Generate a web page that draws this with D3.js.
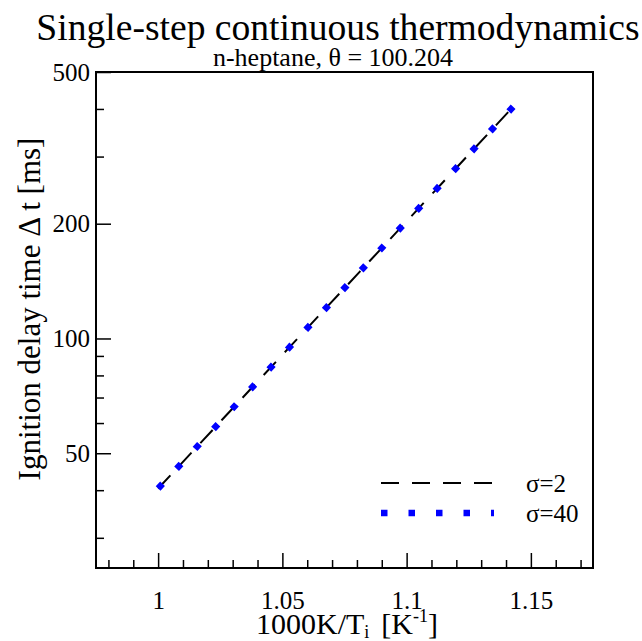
<!DOCTYPE html>
<html>
<head>
<meta charset="utf-8">
<script src="https://cdn.jsdelivr.net/npm/d3@7"></script>
<style>
  body { margin: 0; background: #fff; }
  text { font-family: "Liberation Serif", "Times New Roman", serif; fill: #000; }
</style>
</head>
<body>
<div class="chart"></div>
<script>
// data
var invT = [1.0, 1.02564, 1.05263, 1.08108, 1.11111, 1.14286];
var tauSigma2 = [40.4, 61.1, 94.5, 149.5, 242.8, 405.2];
var tauSigma40 = [40.4, 61.1, 94.5, 149.5, 242.8, 405.2];
var xMajor = [1, 1.05, 1.1, 1.15];
var xMinor = [0.98, 0.99, 1.01, 1.02, 1.03, 1.04, 1.06, 1.07, 1.08, 1.09, 1.11, 1.12, 1.13, 1.14, 1.16, 1.17];
var yMajor = [50, 100, 200, 500];
var yMinor = [30, 40, 60, 70, 80, 90, 300, 400];
var seriesNames = ["σ=2", "σ=40"];

function init() {
    var w = 642, h = 641;
    var left = 96, right = 593, top = 72, bottom = 568;

    var svg = d3.select(".chart").append("svg")
        .attr("width", w)
        .attr("height", h)
        .attr("font-family", "Liberation Serif");

    var xScale = d3.scaleLinear().domain([0.975, 1.175]).range([left, right]);
    var yScale = d3.scaleLog().domain([25, 500]).range([bottom, top]);

    // ticks point inward
    svg.append("g")
        .attr("transform", "translate(0," + bottom + ")")
        .call(d3.axisBottom(xScale).tickValues(xMinor).tickSizeInner(-8).tickSizeOuter(0).tickFormat(""))
        .call(function(g) { g.select(".domain").remove(); });
    var xAx = svg.append("g")
        .attr("transform", "translate(0," + bottom + ")")
        .call(d3.axisBottom(xScale).tickValues(xMajor).tickSizeInner(-15).tickSizeOuter(0).tickPadding(23).tickFormat(d3.format("")));
    xAx.select(".domain").remove();
    xAx.attr("font-family", null).attr("font-size", null);
    xAx.selectAll("text").style("font-size", "25px");

    svg.append("g")
        .attr("transform", "translate(" + left + ",0)")
        .call(d3.axisLeft(yScale).tickValues(yMinor).tickSizeInner(-8).tickSizeOuter(0).tickFormat(""))
        .call(function(g) { g.select(".domain").remove(); });
    var yAx = svg.append("g")
        .attr("transform", "translate(" + left + ",0)")
        .call(d3.axisLeft(yScale).tickValues(yMajor).tickSizeInner(-15).tickSizeOuter(0).tickPadding(6).tickFormat(d3.format("d")));
    yAx.select(".domain").remove();
    yAx.attr("font-family", null).attr("font-size", null);
    yAx.selectAll("text").style("font-size", "25px");

    svg.selectAll(".tick line").attr("stroke", "#000").attr("stroke-width", 1.5);

    // frame
    svg.append("rect")
        .attr("x", left).attr("y", top)
        .attr("width", right - left).attr("height", bottom - top)
        .attr("fill", "none").attr("stroke", "#000").attr("stroke-width", 2);

    var line = d3.line()
        .x(function(d) { return xScale(d[0]); })
        .y(function(d) { return yScale(d[1]); });

    svg.append("path")
        .datum(d3.zip(invT, tauSigma2))
        .attr("d", line)
        .attr("fill", "none")
        .attr("stroke", "#000")
        .attr("stroke-width", 2)
        .attr("stroke-dasharray", "18,13");

    svg.append("path")
        .datum(d3.zip(invT, tauSigma40))
        .attr("d", line)
        .attr("fill", "none")
        .attr("stroke", "#0000ff")
        .attr("stroke-width", 6.5)
        .attr("stroke-dasharray", "6.5,20.6");

    // legend
    svg.append("line")
        .attr("x1", 381).attr("x2", 494).attr("y1", 483).attr("y2", 483)
        .attr("stroke", "#000").attr("stroke-width", 2).attr("stroke-dasharray", "18,13");
    svg.append("line")
        .attr("x1", 381).attr("x2", 494).attr("y1", 513).attr("y2", 513)
        .attr("stroke", "#0000ff").attr("stroke-width", 6.5).attr("stroke-dasharray", "6.5,21");
    svg.append("text").attr("x", 526).attr("y", 492).style("font-size", "25px").text(seriesNames[0]);
    svg.append("text").attr("x", 526).attr("y", 522).style("font-size", "25px").text(seriesNames[1]);

    // titles
    svg.append("text")
        .attr("x", 338).attr("y", 40)
        .attr("text-anchor", "middle")
        .style("font-size", "37.6px")
        .text("Single-step continuous thermodynamics");
    svg.append("text")
        .attr("x", 333).attr("y", 66)
        .attr("text-anchor", "middle")
        .style("font-size", "26px")
        .text("n-heptane, θ = 100.204");

    // axis labels
    var xl = svg.append("text")
        .attr("x", 347).attr("y", 634)
        .attr("text-anchor", "middle")
        .style("font-size", "30px");
    xl.append("tspan").text("1000K/T");
    xl.append("tspan").attr("dy", 4).style("font-size", "18px").text("i");
    xl.append("tspan").attr("dy", -4).attr("dx", 12).text("[K");
    xl.append("tspan").attr("dy", -12).style("font-size", "18px").text("-1");
    xl.append("tspan").attr("dy", 12).text("]");

    svg.append("text")
        .attr("transform", "translate(40,309) rotate(-90)")
        .attr("text-anchor", "middle")
        .style("font-size", "31px")
        .text("Ignition delay time Δ t [ms]");
}

window.onload = init;
</script>
</body>
</html>
